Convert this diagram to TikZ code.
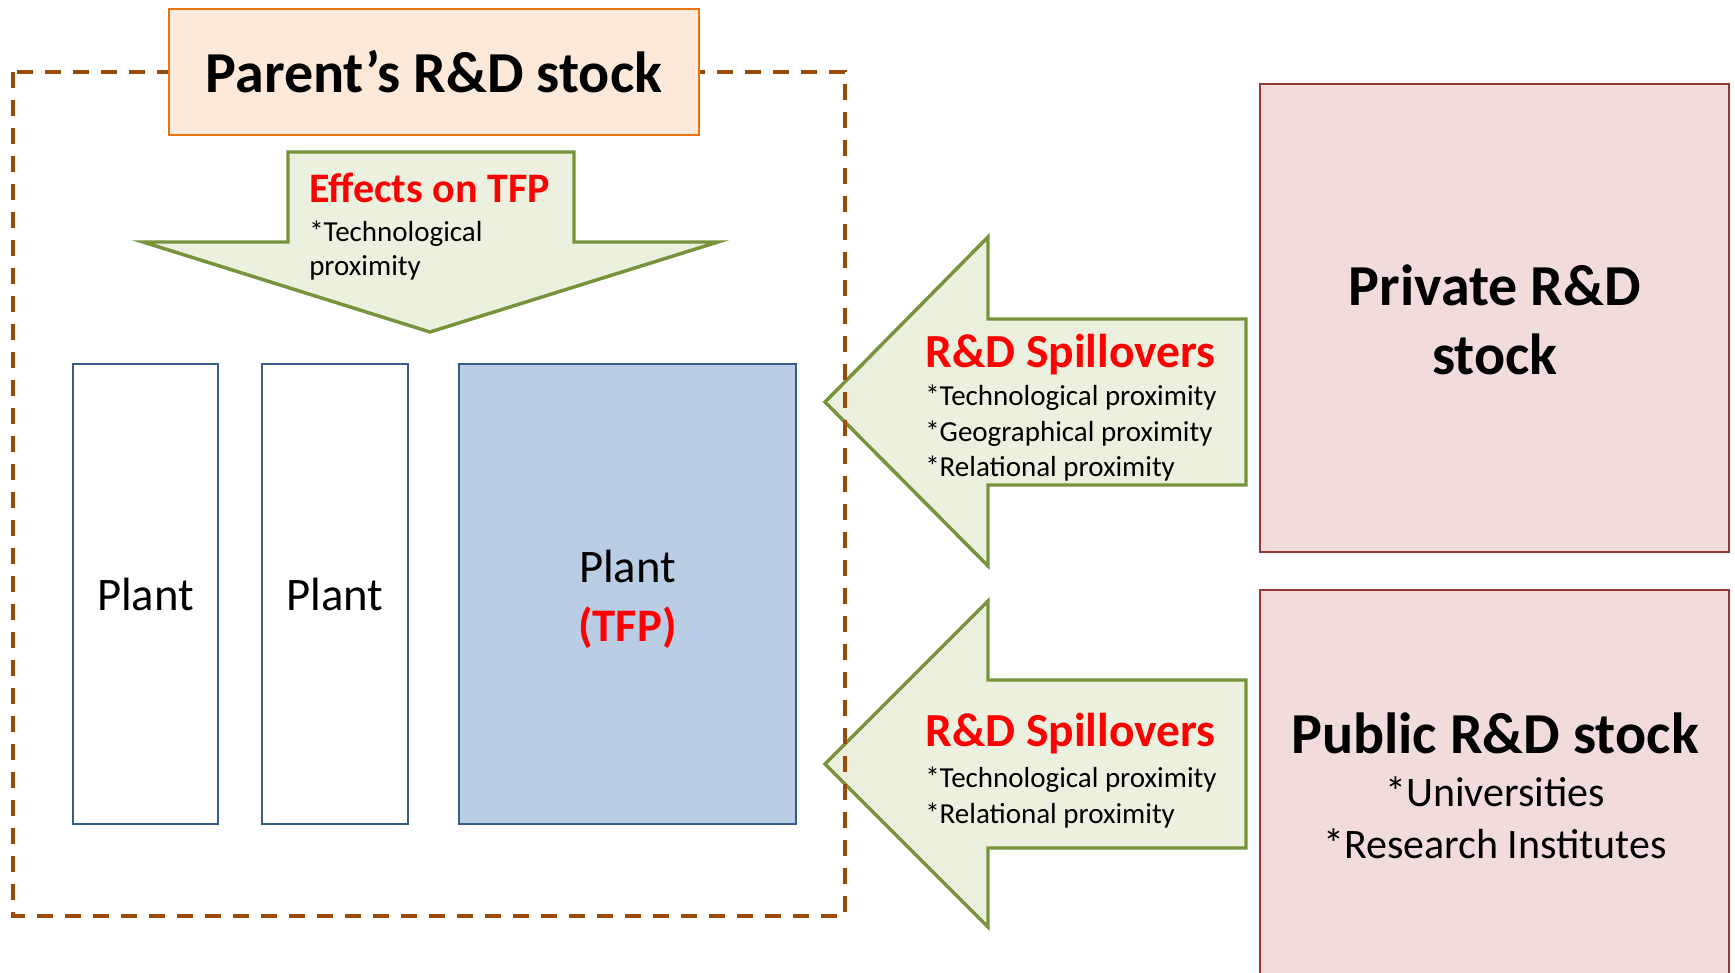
\documentclass[tikz,border=0pt]{standalone}
\usepackage{fontspec}
\setmainfont{Carlito}
\definecolor{parentfill}{RGB}{253,233,217}
\definecolor{parentline}{RGB}{232,116,22}
\definecolor{framebrown}{RGB}{155,74,8}
\definecolor{arrowfill}{RGB}{235,241,222}
\definecolor{arrowline}{RGB}{119,147,60}
\definecolor{plantline}{RGB}{56,93,138}
\definecolor{plantfill}{RGB}{185,205,229}
\definecolor{stockfill}{RGB}{242,220,219}
\definecolor{stockline}{RGB}{149,55,53}
\definecolor{hotred}{RGB}{255,0,0}
\newcommand{\fs}[2]{\fontsize{#1}{#2}\selectfont}
\begin{document}
\begin{tikzpicture}[x=0.75pt,y=-0.75pt,
  blockarrow/.style={draw=arrowline,fill=arrowfill,line width=2.6pt,line join=miter},
  frame/.style={draw=framebrown,line width=3pt,dash pattern=on 12pt off 9pt},
  parentbox/.style={draw=parentline,fill=parentfill,line width=2pt},
  plantbox/.style={draw=plantline,fill=white,line width=1.9pt},
  tfpbox/.style={draw=plantline,fill=plantfill,line width=1.9pt},
  stockbox/.style={draw=stockline,fill=stockfill,line width=2pt},
  txt/.style={inner sep=0pt,text=black},
  head/.style={inner sep=0pt,text=hotred,font=\bfseries\fs{35.6}{40}},
  note/.style={inner sep=0pt,align=left,font=\fs{21.75}{26.6}},
]
\useasboundingbox (0,0) rectangle (1735,973);
\fill[white] (0,0) rectangle (1735,973);

% block arrows
\draw[blockarrow] (288,152) -- (574,152) -- (574,242) -- (718,242) -- (430,332)
  -- (143,242) -- (288,242) -- cycle;
\draw[blockarrow] (1246,319) -- (988,319) -- (988,237) -- (825,402) -- (988,566)
  -- (988,485) -- (1246,485) -- cycle;
\draw[blockarrow] (1246,680) -- (988,680) -- (988,601) -- (825,764) -- (988,927)
  -- (988,848) -- (1246,848) -- cycle;

% firm boundary
\draw[frame] (13,72) rectangle (845,916);

% parent
\node[parentbox,minimum width=530*0.75pt,minimum height=126*0.75pt,inner sep=0pt,
  font=\bfseries\fs{43.5}{50}] (parent) at (434,72) {Parent’s R\&D stock};

% plants
\node[plantbox,minimum width=145*0.75pt,minimum height=460*0.75pt,inner sep=0pt,
  font=\fs{35}{42}] (plantA) at (145.5,594) {Plant};
\node[plantbox,minimum width=146*0.75pt,minimum height=460*0.75pt,inner sep=0pt,
  font=\fs{35}{42}] (plantB) at (335,594) {Plant};
\node[tfpbox,minimum width=337*0.75pt,minimum height=460*0.75pt,inner sep=0pt] (plantC) at (627.5,594) {};
\node[txt,align=center,font=\fs{35}{44}] (plantClab) at (627.5,599)
  {Plant\\{\bfseries\color{hotred}(TFP)}};

% external stocks
\node[stockbox,minimum width=469*0.75pt,minimum height=468*0.75pt,inner sep=0pt] (private) at (1494.5,318) {};
\node[stockbox,minimum width=469*0.75pt,minimum height=420*0.75pt,inner sep=0pt] (public) at (1494.5,800) {};
\node[txt,align=center,font=\bfseries\fs{43.5}{52}] (privlab) at (1495,320) {Private R\&D\\stock};
\node[txt,font=\bfseries\fs{43.5}{50}] (publab) at (1495,733) {Public R\&D stock};
\node[txt,align=center,font=\fs{31.5}{39}] (publist) at (1495,818) {*Universities\\*Research Institutes};

% arrow labels
\node[head,font=\bfseries\fs{31.5}{36},anchor=west] (efftitle) at (309,188) {Effects on TFP};
\node[note,anchor=west,font=\fs{21.75}{25.5}] (efflist) at (309,250.5) {*Technological\\proximity};

\node[head,anchor=west] (spillA) at (925,354.5) {R\&D Spillovers};
\node[note,anchor=west] (listA) at (925,433.5) {*Technological proximity\\*Geographical proximity\\*Relational proximity};

\node[head,anchor=west] (spillB) at (925,733.5) {R\&D Spillovers};
\node[note,anchor=west] (listB) at (925,797.5) {*Technological proximity\\*Relational proximity};
\end{tikzpicture}
\end{document}
